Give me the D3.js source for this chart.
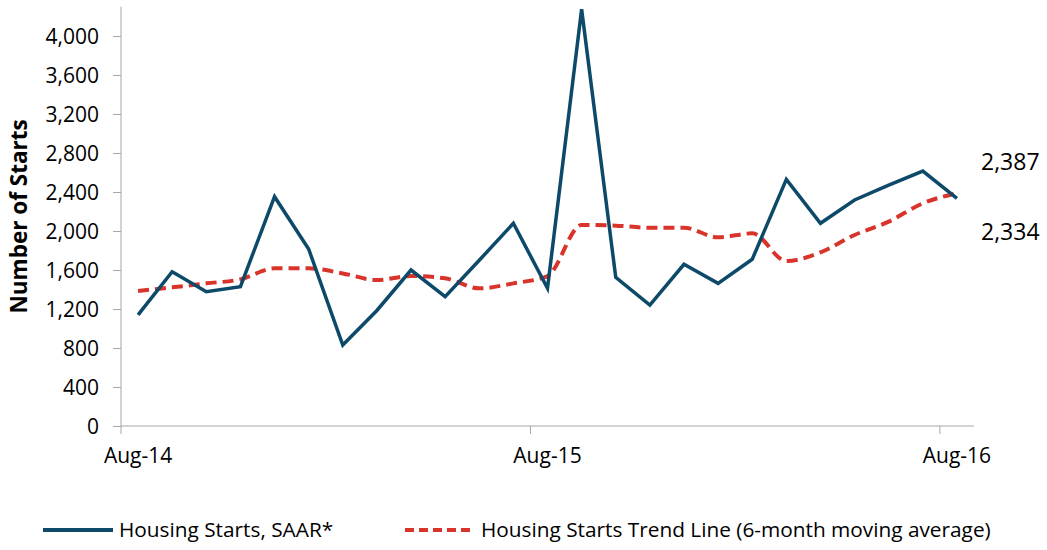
<!DOCTYPE html>
<html>
<head>
<meta charset="utf-8">
<script src="https://cdn.jsdelivr.net/npm/d3@7"></script>
<style>
  body { margin: 0; background: #fff; }
  svg { display: block; font-family: "Open Sans", sans-serif; }
</style>
</head>
<body>
<div id="chart"></div>
<script>
// months shown on the category axis
const months = ["Aug-14", "Sep-14", "Oct-14", "Nov-14", "Dec-14", "Jan-15", "Feb-15", "Mar-15",
  "Apr-15", "May-15", "Jun-15", "Jul-15", "Aug-15", "Sep-15", "Oct-15", "Nov-15", "Dec-15",
  "Jan-16", "Feb-16", "Mar-16", "Apr-16", "May-16", "Jun-16", "Jul-16", "Aug-16"];
const tickMonths = ["Aug-14", "Aug-15", "Aug-16"];

// values
const starts = [1140, 1583, 1377, 1429, 2352, 1815, 831, 1185, 1600, 1326, 1700, 2079, 1412,
  4274, 1525, 1241, 1658, 1463, 1710, 2530, 2079, 2318, 2470, 2615, 2334];
const trend = [1385, 1422, 1463, 1504, 1617, 1617, 1565, 1497, 1538, 1515, 1412, 1463, 1538,
  2062, 2055, 2034, 2034, 1935, 1976, 1692, 1781, 1959, 2096, 2284, 2387];
const yTicks = [0, 400, 800, 1200, 1600, 2000, 2400, 2800, 3200, 3600, 4000];

const width = 1047, height = 550;
const margin = { top: 7, right: 73, bottom: 124, left: 121 };

const svg = d3.select("#chart")
  .append("svg")
  .attr("width", width)
  .attr("height", height);

const x = d3.scaleBand()
  .domain(months)
  .range([margin.left, width - margin.right])
  .padding(0);
const cx = d => x(d) + x.bandwidth() / 2;

const y = d3.scaleLinear()
  .domain([0, 4300])
  .range([height - margin.bottom, height - margin.bottom - 4300 * 0.0975]);

const axisColor = "#a6a6a6";

// y axis
const yAxis = svg.append("g")
  .attr("transform", "translate(" + margin.left + ",0)")
  .call(d3.axisLeft(y).tickValues(yTicks).tickSize(8).tickPadding(14)
    .tickFormat(d3.format(",")));
yAxis.select(".domain").attr("stroke", axisColor);
yAxis.selectAll(".tick line").attr("stroke", axisColor);
yAxis.selectAll(".tick text")
  .attr("font-size", 21)
  .attr("font-family", "Open Sans")
  .attr("fill", "#000")
  .attr("dy", "0.36em");
// extend the axis line to the plot top
yAxis.select(".domain").attr("d", "M0," + y.range()[1] + "V" + y(0));

// x axis: ticks on category boundaries, labels on categories
const x0 = y(0);
svg.append("line")
  .attr("x1", margin.left).attr("x2", width - margin.right)
  .attr("y1", x0).attr("y2", x0)
  .attr("stroke", axisColor).attr("stroke-width", 1);
svg.append("g").selectAll("line")
  .data(tickMonths)
  .enter()
  .append("line")
  .attr("x1", d => x(d)).attr("x2", d => x(d))
  .attr("y1", x0).attr("y2", x0 + 8)
  .attr("stroke", axisColor);
svg.append("g").selectAll("text")
  .data(tickMonths)
  .enter()
  .append("text")
  .attr("x", d => cx(d))
  .attr("y", 463)
  .attr("text-anchor", "middle")
  .attr("font-size", 21)
  .text(d => d);

// y axis title
svg.append("text")
  .attr("transform", "translate(27," + ((y.range()[1] + y(0)) / 2 + 0) + ") rotate(-90)")
  .attr("text-anchor", "middle")
  .attr("font-size", 22.5)
  .attr("font-weight", "bold")
  .text("Number of Starts");

const blue = "#0d4a6a", red = "#d9342b";

// trend line (smoothed, dashed)
const trendLine = d3.line()
  .x((d, i) => cx(months[i]))
  .y(d => y(d))
  .curve(d3.curveMonotoneX);
svg.append("path")
  .datum(trend)
  .attr("d", trendLine)
  .attr("fill", "none")
  .attr("stroke", red)
  .attr("stroke-width", 4)
  .attr("stroke-dasharray", "11,6");

// housing starts
const startsLine = d3.line()
  .x((d, i) => cx(months[i]))
  .y(d => y(d));
svg.append("path")
  .datum(starts)
  .attr("d", startsLine)
  .attr("fill", "none")
  .attr("stroke", blue)
  .attr("stroke-width", 3.5)
  .attr("stroke-linejoin", "miter");

// end value annotations
const lastX = width - margin.right + 7;
svg.append("text")
  .attr("x", lastX).attr("y", y(trend[trend.length - 1]) - 23)
  .attr("font-size", 23)
  .text(d3.format(",")(trend[trend.length - 1]));
svg.append("text")
  .attr("x", lastX).attr("y", y(starts[starts.length - 1]) + 42)
  .attr("font-size", 23)
  .text(d3.format(",")(starts[starts.length - 1]));

// legend
const legend = [
  { label: "Housing Starts, SAAR*", color: blue, dash: null, x: 43 },
  { label: "Housing Starts Trend Line (6-month moving average)", color: red, dash: "9,5", x: 405 }
];
const lg = svg.append("g").selectAll("g")
  .data(legend)
  .enter()
  .append("g")
  .attr("transform", d => "translate(" + d.x + ",530)");
lg.append("line")
  .attr("x1", 0).attr("x2", 70)
  .attr("stroke", d => d.color)
  .attr("stroke-width", 4)
  .attr("stroke-dasharray", d => d.dash);
lg.append("text")
  .attr("x", 76)
  .attr("dy", "0.35em")
  .attr("font-size", 20.8)
  .text(d => d.label);
</script>
</body>
</html>
